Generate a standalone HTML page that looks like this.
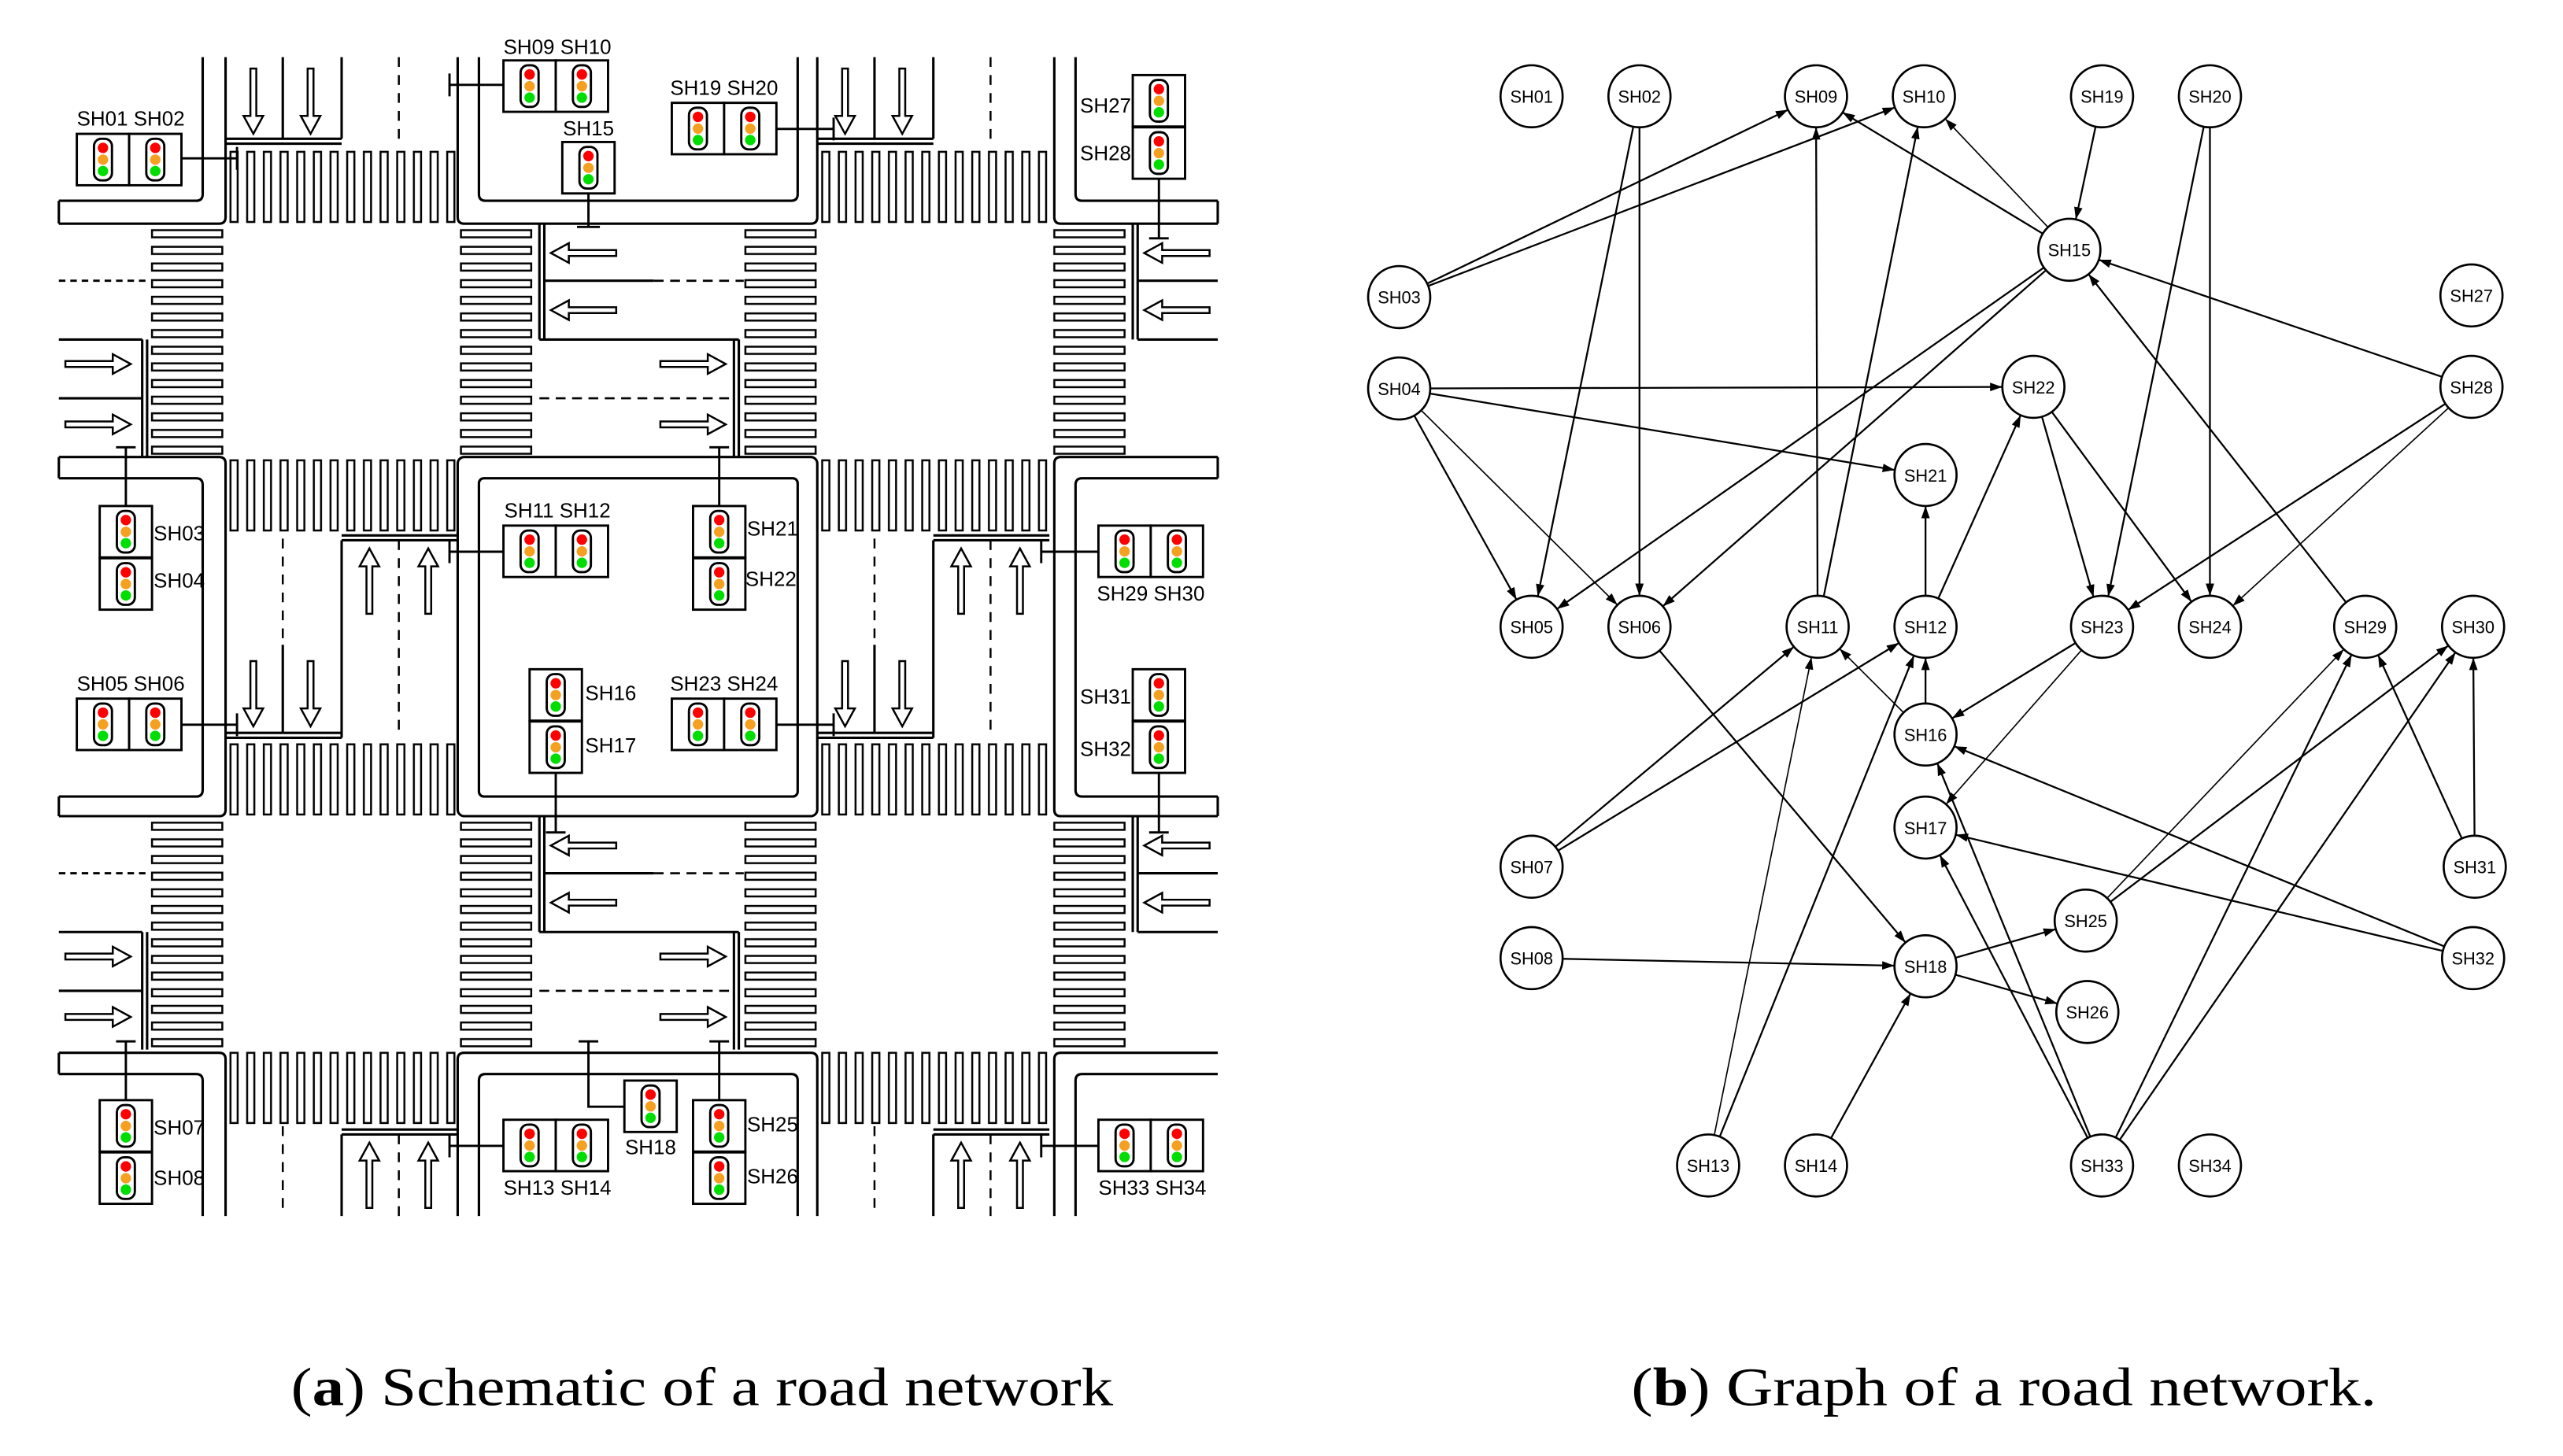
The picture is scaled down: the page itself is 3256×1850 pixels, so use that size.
<!DOCTYPE html>
<html><head><meta charset="utf-8">
<style>html,body{margin:0;padding:0;background:#fff}svg{display:block}</style>
</head><body>
<svg width="3256" height="1850" viewBox="0 0 1568 892" preserveAspectRatio="none" xmlns="http://www.w3.org/2000/svg" xmlns:xlink="http://www.w3.org/1999/xlink">
<defs>
<pattern id="vb" patternUnits="userSpaceOnUse" width="10.2" height="46"><rect x="1" y="1" width="4.4" height="43" fill="#fff" stroke="#000" stroke-width="1.2"/></pattern>
<pattern id="hb" patternUnits="userSpaceOnUse" width="46" height="10.2"><rect x="1" y="1" width="43" height="4.4" fill="#fff" stroke="#000" stroke-width="1.2"/></pattern>
<g id="tl"><rect x="0" y="0" width="32" height="31.5" fill="#fff" stroke="#000" stroke-width="1.4"/><rect x="10.5" y="3" width="11" height="25.5" rx="4.5" fill="#fff" stroke="#000" stroke-width="1.4"/><circle cx="16" cy="8.6" r="3.2" fill="#f00"/><circle cx="16" cy="15.8" r="3.2" fill="#f5a020"/><circle cx="16" cy="22.8" r="3.2" fill="#0d0"/></g>
<polygon id="ar" points="0,0 6,11 1.8,11 1.8,40 -1.8,40 -1.8,11 -6,11" fill="#fff" stroke="#000" stroke-width="1.2"/>
<marker id="mk" markerUnits="userSpaceOnUse" markerWidth="40" markerHeight="12" viewBox="0 -6 40 12" refX="26.5" refY="0" orient="auto"><path d="M0,-2.6 L7.5,0 L0,2.6 Z" fill="#000"/></marker>
</defs>

<g>
<g transform="translate(140,92)"><rect width="140" height="46" fill="url(#vb)"/></g>
<g transform="translate(140,281)"><rect width="140" height="46" fill="url(#vb)"/></g>
<g transform="translate(140,455)"><rect width="140" height="46" fill="url(#vb)"/></g>
<g transform="translate(140,644)"><rect width="140" height="46" fill="url(#vb)"/></g>
<g transform="translate(502,92)"><rect width="142" height="46" fill="url(#vb)"/></g>
<g transform="translate(502,281)"><rect width="142" height="46" fill="url(#vb)"/></g>
<g transform="translate(502,455)"><rect width="142" height="46" fill="url(#vb)"/></g>
<g transform="translate(502,644)"><rect width="142" height="46" fill="url(#vb)"/></g>
<g transform="translate(92,140)"><rect width="46" height="140" fill="url(#hb)"/></g>
<g transform="translate(281,140)"><rect width="46" height="140" fill="url(#hb)"/></g>
<g transform="translate(455,140)"><rect width="46" height="140" fill="url(#hb)"/></g>
<g transform="translate(644,140)"><rect width="46" height="140" fill="url(#hb)"/></g>
<g transform="translate(92,503)"><rect width="46" height="140" fill="url(#hb)"/></g>
<g transform="translate(281,503)"><rect width="46" height="140" fill="url(#hb)"/></g>
<g transform="translate(455,503)"><rect width="46" height="140" fill="url(#hb)"/></g>
<g transform="translate(644,503)"><rect width="46" height="140" fill="url(#hb)"/></g>
</g>

<g fill="none" stroke="#000" stroke-width="1.5">
<path d="M138,35 V133 Q138,137 134,137 H36 M124,35 V119 Q124,123 120,123 H36 M36,123 V137"/>
<path d="M280,35 V133 Q280,137 284,137 H496 Q500,137 500,133 V35 M293,35 V119 Q293,123 297,123 H484 Q488,123 488,119 V35"/>
<path d="M745,137 H649 Q645,137 645,133 V35 M745,123 H662 Q658,123 658,119 V35 M745,123 V137"/>
<path d="M36,280 H134 Q138,280 138,284 V496 Q138,500 134,500 H36 M36,293 H120 Q124,293 124,297 V484 Q124,488 120,488 H36 M36,280 V293 M36,488 V500"/>
<rect x="280" y="280" width="220" height="220" rx="4"/>
<rect x="293" y="293" width="195" height="195" rx="3"/>
<path d="M745,280 H649 Q645,280 645,284 V496 Q645,500 649,500 H745 M745,293 H662 Q658,293 658,297 V484 Q658,488 662,488 H745 M745,280 V293 M745,488 V500"/>
<path d="M36,645 H134 Q138,645 138,649 V745 M36,658 H120 Q124,658 124,662 V745 M36,645 V658"/>
<path d="M280,745 V649 Q280,645 284,645 H496 Q500,645 500,649 V745 M293,745 V662 Q293,658 297,658 H484 Q488,658 488,662 V745"/>
<path d="M745,645 H649 Q645,645 645,649 V745 M745,658 H662 Q658,658 658,662 V745"/>

<g id="colA">
<path d="M173,35 V85 M209,35 V85 M138,85 H209 M138,88 H209"/>
<path d="M244,35 V90" stroke-dasharray="6,5" stroke-width="1.2"/>
<path d="M209,328 H280 M209,331 H280 M209,331 V452 M138,449 H209 M138,452 H209 M173,395 V449"/>
<path d="M173,330 V395 M244,331 V452" stroke-dasharray="6,5" stroke-width="1.2"/>
<path d="M209,692 H280 M209,695 H280 M209,695 V745"/>
<path d="M173,690 V745 M244,695 V745" stroke-dasharray="6,5" stroke-width="1.2"/>
</g>
<use xlink:href="#colA" transform="translate(362,0)"/>

<g id="rowA">
<path d="M36,172 H90" stroke-dasharray="4,3" stroke-width="1.4"/>
<path d="M36,208 H87 M87,208 V280 M90,208 V280 M36,244 H87"/>
<path d="M330,137 V208 M333,137 V208 M333,172 H400 M330,208 H452 M449,208 V280 M452,208 V280"/>
<path d="M400,172 H455 M330,244 H449" stroke-dasharray="6,4" stroke-width="1.3"/>
<path d="M693,137 V208 M696,137 V208 M696,172 H745 M696,208 H745"/>
</g>
<use xlink:href="#rowA" transform="translate(0,363)"/>
</g>

<g id="arrs">
<use xlink:href="#ar" transform="translate(155,82) rotate(180)"/>
<use xlink:href="#ar" transform="translate(190,82) rotate(180)"/>
<use xlink:href="#ar" transform="translate(226,336)"/>
<use xlink:href="#ar" transform="translate(262,336)"/>
<use xlink:href="#ar" transform="translate(155,445) rotate(180)"/>
<use xlink:href="#ar" transform="translate(190,445) rotate(180)"/>
<use xlink:href="#ar" transform="translate(226,700)"/>
<use xlink:href="#ar" transform="translate(262,700)"/>
</g>
<use xlink:href="#arrs" transform="translate(362,0)"/>
<g id="arrh">
<use xlink:href="#ar" transform="translate(80,223) rotate(90)"/>
<use xlink:href="#ar" transform="translate(80,260) rotate(90)"/>
<use xlink:href="#ar" transform="translate(337,155) rotate(-90)"/>
<use xlink:href="#ar" transform="translate(337,190) rotate(-90)"/>
<use xlink:href="#ar" transform="translate(444,223) rotate(90)"/>
<use xlink:href="#ar" transform="translate(444,260) rotate(90)"/>
<use xlink:href="#ar" transform="translate(700,155) rotate(-90)"/>
<use xlink:href="#ar" transform="translate(700,190) rotate(-90)"/>
</g>
<use xlink:href="#arrh" transform="translate(0,363)"/>

<g fill="none" stroke="#000" stroke-width="1.4">
<path d="M111,97 H145 M145,90 V104"/>
<path d="M308,52 H275 M275,45 V59"/>
<path d="M360,118 V139 M353,139 H367"/>
<path d="M475,79 H510 M510,72 V86"/>
<path d="M709,110 V146 M703,146 H715"/>
<path d="M77,310 V274 M71,274 H83"/>
<path d="M308,338 H275 M275,331 V345"/>
<path d="M440,310 V274 M434,274 H446"/>
<path d="M672,338 H637 M637,331 V345"/>
<path d="M111,444 H145 M145,437 V451"/>
<path d="M340,473 V510 M334,510 H346"/>
<path d="M475,444 H510 M510,437 V451"/>
<path d="M709,473 V510 M703,510 H715"/>
<path d="M77,674 V638 M71,638 H83"/>
<path d="M308,702 H275 M275,695 V709"/>
<path d="M382,678 H360 V638 M354,638 H366"/>
<path d="M440,674 V638 M434,638 H446"/>
<path d="M672,702 H637 M637,695 V709"/>
</g>

<use xlink:href="#tl" x="47" y="82"/><use xlink:href="#tl" x="79" y="82"/>
<use xlink:href="#tl" x="308" y="37"/><use xlink:href="#tl" x="340" y="37"/>
<use xlink:href="#tl" x="344" y="87"/>
<use xlink:href="#tl" x="411" y="63"/><use xlink:href="#tl" x="443" y="63"/>
<use xlink:href="#tl" x="693" y="46"/><use xlink:href="#tl" x="693" y="78"/>
<use xlink:href="#tl" x="61" y="310"/><use xlink:href="#tl" x="61" y="342"/>
<use xlink:href="#tl" x="308" y="322"/><use xlink:href="#tl" x="340" y="322"/>
<use xlink:href="#tl" x="424" y="310"/><use xlink:href="#tl" x="424" y="342"/>
<use xlink:href="#tl" x="672" y="322"/><use xlink:href="#tl" x="704" y="322"/>
<use xlink:href="#tl" x="47" y="428"/><use xlink:href="#tl" x="79" y="428"/>
<use xlink:href="#tl" x="324" y="410"/><use xlink:href="#tl" x="324" y="442"/>
<use xlink:href="#tl" x="411" y="428"/><use xlink:href="#tl" x="443" y="428"/>
<use xlink:href="#tl" x="693" y="410"/><use xlink:href="#tl" x="693" y="442"/>
<use xlink:href="#tl" x="61" y="674"/><use xlink:href="#tl" x="61" y="706"/>
<use xlink:href="#tl" x="308" y="686"/><use xlink:href="#tl" x="340" y="686"/>
<use xlink:href="#tl" x="382" y="662"/>
<use xlink:href="#tl" x="424" y="674"/><use xlink:href="#tl" x="424" y="706"/>
<use xlink:href="#tl" x="672" y="686"/><use xlink:href="#tl" x="704" y="686"/>

<g font-family="'Liberation Sans', sans-serif" font-size="12.5" fill="#000">
<text x="80" y="77" text-anchor="middle">SH01 SH02</text>
<text x="341" y="33" text-anchor="middle">SH09 SH10</text>
<text x="360" y="83" text-anchor="middle">SH15</text>
<text x="443" y="58" text-anchor="middle">SH19 SH20</text>
<text x="692" y="69" text-anchor="end">SH27</text>
<text x="692" y="98" text-anchor="end">SH28</text>
<text x="94" y="331">SH03</text>
<text x="94" y="360">SH04</text>
<text x="341" y="317" text-anchor="middle">SH11 SH12</text>
<text x="457" y="328">SH21</text>
<text x="456" y="359">SH22</text>
<text x="704" y="368" text-anchor="middle">SH29 SH30</text>
<text x="80" y="423" text-anchor="middle">SH05 SH06</text>
<text x="358" y="429">SH16</text>
<text x="358" y="461">SH17</text>
<text x="443" y="423" text-anchor="middle">SH23 SH24</text>
<text x="692" y="431" text-anchor="end">SH31</text>
<text x="692" y="463" text-anchor="end">SH32</text>
<text x="94" y="695">SH07</text>
<text x="94" y="726">SH08</text>
<text x="341" y="732" text-anchor="middle">SH13 SH14</text>
<text x="398" y="707" text-anchor="middle">SH18</text>
<text x="457" y="693">SH25</text>
<text x="457" y="725">SH26</text>
<text x="705" y="732" text-anchor="middle">SH33 SH34</text>
</g>

<g stroke="#000" stroke-width="1.1" marker-end="url(#mk)">
<line x1="856" y1="182" x2="1111" y2="59"/>
<line x1="856" y1="182" x2="1177" y2="59"/>
<line x1="1003" y1="59" x2="937" y2="384"/>
<line x1="1003" y1="59" x2="1003" y2="384"/>
<line x1="1112" y1="384" x2="1111" y2="59"/>
<line x1="1112" y1="384" x2="1177" y2="59"/>
<line x1="1266" y1="153" x2="1111" y2="59"/>
<line x1="1266" y1="153" x2="1177" y2="59" stroke-width="0.8"/>
<line x1="1286" y1="59" x2="1266" y2="153"/>
<line x1="1352" y1="59" x2="1286" y2="384"/>
<line x1="1352" y1="59" x2="1352" y2="384"/>
<line x1="1266" y1="153" x2="937" y2="384"/>
<line x1="1266" y1="153" x2="1003" y2="384"/>
<line x1="1512" y1="237" x2="1266" y2="153"/>
<line x1="1447" y1="384" x2="1266" y2="153"/>
<line x1="856" y1="238" x2="1244" y2="237"/>
<line x1="856" y1="238" x2="1178" y2="291"/>
<line x1="856" y1="238" x2="937" y2="384"/>
<line x1="856" y1="238" x2="1003" y2="384" stroke-width="0.8"/>
<line x1="1178" y1="384" x2="1178" y2="291"/>
<line x1="1178" y1="384" x2="1244" y2="237"/>
<line x1="1244" y1="237" x2="1286" y2="384"/>
<line x1="1244" y1="237" x2="1352" y2="384"/>
<line x1="1512" y1="237" x2="1286" y2="384"/>
<line x1="1512" y1="237" x2="1352" y2="384" stroke-width="0.8"/>
<line x1="1003" y1="384" x2="1178" y2="592"/>
<line x1="937" y1="531" x2="1112" y2="384"/>
<line x1="937" y1="531" x2="1178" y2="384"/>
<line x1="1045" y1="714" x2="1112" y2="384" stroke-width="0.8"/>
<line x1="1045" y1="714" x2="1178" y2="384"/>
<line x1="1178" y1="450" x2="1112" y2="384" stroke-width="0.8"/>
<line x1="1178" y1="450" x2="1178" y2="384"/>
<line x1="1286" y1="384" x2="1178" y2="450"/>
<line x1="1286" y1="384" x2="1178" y2="507" stroke-width="0.8"/>
<line x1="1286" y1="714" x2="1178" y2="450"/>
<line x1="1286" y1="714" x2="1178" y2="507"/>
<line x1="1286" y1="714" x2="1447" y2="384"/>
<line x1="1286" y1="714" x2="1513" y2="384"/>
<line x1="1276" y1="564" x2="1447" y2="384" stroke-width="0.8"/>
<line x1="1276" y1="564" x2="1513" y2="384"/>
<line x1="1514" y1="531" x2="1447" y2="384"/>
<line x1="1514" y1="531" x2="1513" y2="384"/>
<line x1="1513" y1="587" x2="1178" y2="450"/>
<line x1="1513" y1="587" x2="1178" y2="507"/>
<line x1="937" y1="587" x2="1178" y2="592"/>
<line x1="1111" y1="714" x2="1178" y2="592"/>
<line x1="1178" y1="592" x2="1276" y2="564"/>
<line x1="1178" y1="592" x2="1277" y2="620"/>
</g>

<g fill="#fff" stroke="#000" stroke-width="1.3">
<circle cx="937" cy="59" r="19"/><circle cx="1003" cy="59" r="19"/><circle cx="1111" cy="59" r="19"/><circle cx="1177" cy="59" r="19"/>
<circle cx="1286" cy="59" r="19"/><circle cx="1352" cy="59" r="19"/><circle cx="1266" cy="153" r="19"/><circle cx="856" cy="182" r="19"/>
<circle cx="1512" cy="181" r="19"/><circle cx="856" cy="238" r="19"/><circle cx="1244" cy="237" r="19"/><circle cx="1512" cy="237" r="19"/>
<circle cx="1178" cy="291" r="19"/><circle cx="937" cy="384" r="19"/><circle cx="1003" cy="384" r="19"/><circle cx="1112" cy="384" r="19"/>
<circle cx="1178" cy="384" r="19"/><circle cx="1286" cy="384" r="19"/><circle cx="1352" cy="384" r="19"/><circle cx="1447" cy="384" r="19"/>
<circle cx="1513" cy="384" r="19"/><circle cx="1178" cy="450" r="19"/><circle cx="1178" cy="507" r="19"/><circle cx="937" cy="531" r="19"/>
<circle cx="1514" cy="531" r="19"/><circle cx="1276" cy="564" r="19"/><circle cx="937" cy="587" r="19"/><circle cx="1178" cy="592" r="19"/>
<circle cx="1513" cy="587" r="19"/><circle cx="1277" cy="620" r="19"/><circle cx="1045" cy="714" r="19"/><circle cx="1111" cy="714" r="19"/>
<circle cx="1286" cy="714" r="19"/><circle cx="1352" cy="714" r="19"/>
</g>
<g font-family="'Liberation Sans', sans-serif" font-size="10.5" text-anchor="middle" fill="#000">
<text x="937" y="63">SH01</text><text x="1003" y="63">SH02</text><text x="1111" y="63">SH09</text><text x="1177" y="63">SH10</text>
<text x="1286" y="63">SH19</text><text x="1352" y="63">SH20</text><text x="1266" y="157">SH15</text><text x="856" y="186">SH03</text>
<text x="1512" y="185">SH27</text><text x="856" y="242">SH04</text><text x="1244" y="241">SH22</text><text x="1512" y="241">SH28</text>
<text x="1178" y="295">SH21</text><text x="937" y="388">SH05</text><text x="1003" y="388">SH06</text><text x="1112" y="388">SH11</text>
<text x="1178" y="388">SH12</text><text x="1286" y="388">SH23</text><text x="1352" y="388">SH24</text><text x="1447" y="388">SH29</text>
<text x="1513" y="388">SH30</text><text x="1178" y="454">SH16</text><text x="1178" y="511">SH17</text><text x="937" y="535">SH07</text>
<text x="1514" y="535">SH31</text><text x="1276" y="568">SH25</text><text x="937" y="591">SH08</text><text x="1178" y="596">SH18</text>
<text x="1513" y="591">SH32</text><text x="1277" y="624">SH26</text><text x="1045" y="718">SH13</text><text x="1111" y="718">SH14</text>
<text x="1286" y="718">SH33</text><text x="1352" y="718">SH34</text>
</g>

<g font-family="'Liberation Serif', serif" font-size="33" fill="#000">
<text x="178" y="861" textLength="503" lengthAdjust="spacingAndGlyphs">(<tspan font-weight="bold">a</tspan>) Schematic of a road network</text>
<text x="998" y="861" textLength="456" lengthAdjust="spacingAndGlyphs">(<tspan font-weight="bold">b</tspan>) Graph of a road network.</text>
</g>
</svg>
</body></html>
